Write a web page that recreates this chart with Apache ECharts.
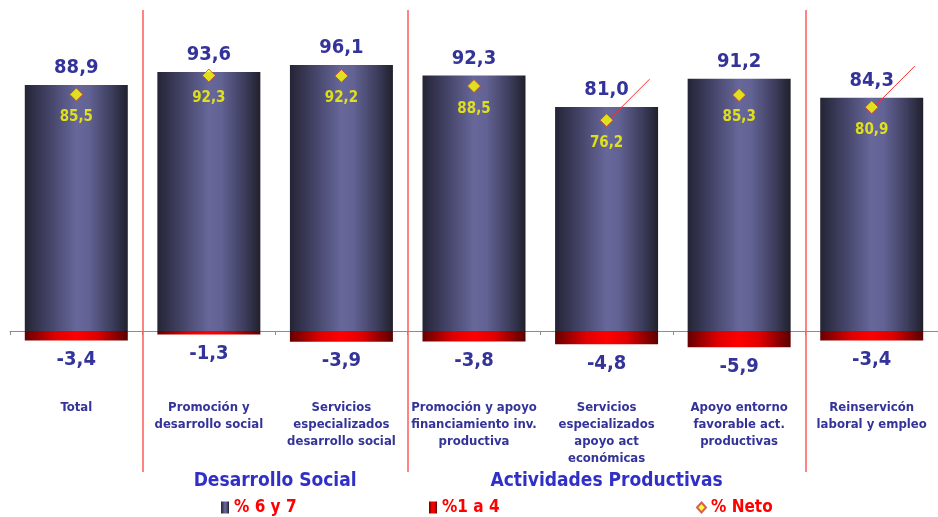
<!DOCTYPE html>
<html>
<head>
<meta charset="utf-8">
<script src="https://cdn.jsdelivr.net/npm/echarts@6/dist/echarts.min.js"></script>
<style>html,body{margin:0;padding:0;background:#fff}#c{width:938px;height:517px}</style>
</head>
<body>
<div id="c"></div>
<script>
const categories = ['Total', 'Promoción y\ndesarrollo social', 'Servicios\nespecializados\ndesarrollo social', 'Promoción y apoyo\nfinanciamiento inv.\nproductiva', 'Servicios\nespecializados\napoyo act\neconómicas', 'Apoyo entorno\nfavorable act.\nproductivas', 'Reinservicón\nlaboral y empleo'];
const pct6y7 = [88.9, 93.6, 96.1, 92.3, 81.0, 91.2, 84.3];
const pct1a4 = [-3.4, -1.3, -3.9, -3.8, -4.8, -5.9, -3.4];
const pctNeto = [85.5, 92.3, 92.2, 88.5, 76.2, 85.3, 80.9];
const leaderAt = [null, null, null, null, 76.2, null, 80.9];
const separators = [1, 3, 6];
const groupNames = ['Desarrollo Social', 'Actividades Productivas'];
const groupCenters = [2, 4.5];

const FONT = "'DejaVu Sans Condensed', 'DejaVu Sans', sans-serif";
const fmt = v => v.toFixed(1).replace('.', ',');

const blueGrad = new echarts.graphic.LinearGradient(0, 0, 1, 0, [
  {offset: 0, color: '#242436'}, {offset: 0.25, color: '#45456a'},
  {offset: 0.5, color: '#67679a'}, {offset: 0.62, color: '#626294'},
  {offset: 0.85, color: '#3c3c5c'}, {offset: 1, color: '#20202c'}]);
const redGrad = new echarts.graphic.LinearGradient(0, 0, 1, 0, [
  {offset: 0, color: '#650000'}, {offset: 0.3, color: '#e00000'},
  {offset: 0.5, color: '#ff0000'}, {offset: 0.7, color: '#e00000'},
  {offset: 1, color: '#5a0000'}]);

const chart = echarts.init(document.getElementById('c'));
const legendText = {color: '#ff0000', fontWeight: 'bold', fontSize: 17, fontFamily: FONT};
chart.setOption({
  animation: false,
  backgroundColor: '#ffffff',
  grid: [
    {left: 10, width: 931, top: 54.3, height: 304.4},
    {left: 10, width: 931, top: 10, height: 462}
  ],
  legend: [
    {data: [{name: '% 6 y 7', icon: 'rect'}], left: 221, top: 499, padding: 0, itemWidth: 8, itemHeight: 12, textStyle: legendText, selectedMode: false},
    {data: [{name: '%1 a 4', icon: 'rect'}], left: 429, top: 499, padding: 0, itemWidth: 8, itemHeight: 12, textStyle: legendText, selectedMode: false},
    {data: [{name: '% Neto', icon: 'diamond'}], left: 696, top: 499, padding: 0, itemWidth: 9, itemHeight: 10, textStyle: legendText, selectedMode: false}
  ],
  xAxis: [
    {type: 'category', gridIndex: 0, data: categories,
     axisLine: {lineStyle: {color: '#8c8c8c', width: 1}},
     axisTick: {show: true, length: 4, lineStyle: {color: '#8c8c8c'}},
     axisLabel: {margin: 40, color: '#33339a', fontWeight: 'bold', fontSize: 13, lineHeight: 17, fontFamily: FONT, interval: 0}},
    {type: 'value', gridIndex: 1, min: 0, max: 7, show: false}
  ],
  yAxis: [
    {type: 'value', gridIndex: 0, min: -10, max: 100, show: false, splitLine: {show: false}},
    {type: 'value', gridIndex: 1, min: 0, max: 1, show: false, splitLine: {show: false}}
  ],
  series: [
    {name: '% 6 y 7', type: 'bar', data: pct6y7, barWidth: 103, barGap: '-100%',
     itemStyle: {color: blueGrad},
     label: {show: true, position: 'top', distance: 7, formatter: p => fmt(p.value),
       color: '#333399', fontWeight: 'bold', fontSize: 20, fontFamily: FONT}},
    {name: '%1 a 4', type: 'bar', data: pct1a4, barWidth: 103,
     itemStyle: {color: redGrad},
     label: {show: true, position: 'bottom', distance: 9, formatter: p => fmt(p.value),
       color: '#333399', fontWeight: 'bold', fontSize: 20, fontFamily: FONT}},
    {name: 'leader', type: 'scatter', data: leaderAt, symbol: 'diamond', symbolSize: 13, z: 3, silent: true,
     itemStyle: {color: 'rgba(0,0,0,0)'},
     label: {show: true, position: 'inside', formatter: ' ', fontSize: 2},
     labelLayout: {dx: 43, dy: -42},
     labelLine: {show: true, lineStyle: {color: '#ff2a2a', width: 1}}},
    {name: '% Neto', type: 'scatter', data: pctNeto, symbol: 'diamond', symbolSize: 13, z: 5,
     itemStyle: {color: '#ffff00', borderColor: '#c83c3c', borderWidth: 1},
     label: {show: true, position: 'bottom', distance: 8, formatter: p => fmt(p.value),
       color: '#ffff00', fontWeight: 'bold', fontSize: 15, fontFamily: FONT}},
    {name: 'sep', type: 'line', xAxisIndex: 1, yAxisIndex: 1, data: [], silent: true,
     markLine: {symbol: 'none', silent: true, label: {show: false},
       lineStyle: {color: '#ff5a5a', width: 1.5, type: 'solid'},
       data: separators.map(v => ({xAxis: v}))}},
    {name: 'groups', type: 'scatter', xAxisIndex: 1, yAxisIndex: 1, symbolSize: 0, silent: true,
     data: groupCenters.map((c, i) => ({value: [c, 0], name: groupNames[i]})),
     itemStyle: {opacity: 1},
     label: {show: true, position: 'bottom', distance: 0, formatter: p => p.name,
       color: '#3030c8', fontWeight: 'bold', fontSize: 19, fontFamily: FONT}}
  ]
});
</script>
</body>
</html>
